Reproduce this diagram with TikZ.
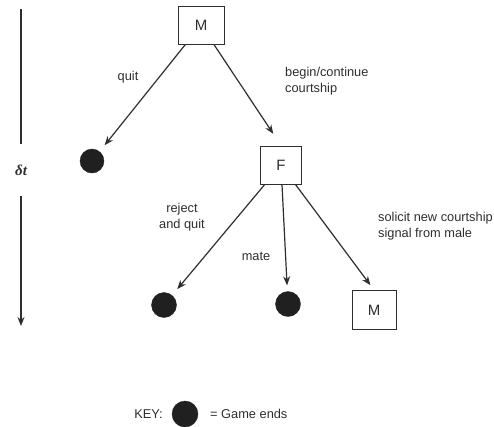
\documentclass[tikz,border=0pt]{standalone}
\usepackage{fontspec}
\setmainfont{Liberation Sans}
\newfontfamily\deltafont{Liberation Serif}
\usetikzlibrary{arrows.meta}
\definecolor{ink}{HTML}{2E2E2E}
\definecolor{dot}{HTML}{202020}
\begin{document}
\begin{tikzpicture}[x=1pt,y=-1pt,
  player/.style={draw=ink,line width=1pt,inner sep=0pt,text=ink,font=\fontsize{15}{18}\selectfont},
  enddot/.style={circle,fill=dot,draw=dot,inner sep=0pt,minimum size=25pt},
  lbl/.style={inner sep=0pt,text=ink,font=\fontsize{12.8}{16}\selectfont},
  move/.style={draw=ink,line width=1.2pt,-{Stealth[length=9pt,width=7pt]}}
]
\useasboundingbox (0,0) rectangle (494,426);
% players
\node[player,minimum width=46pt,minimum height=38pt] (M1) at (201,25) {M};
\node[player,minimum width=41pt,minimum height=38pt] (F) at (281,165) {F};
\node[player,minimum width=44pt,minimum height=39pt] (M2) at (374,310) {M};
% end states
\node[enddot,minimum size=24pt] (c1) at (92,161) {};
\node[enddot] (c2) at (164,305) {};
\node[enddot] (c3) at (288,304) {};
% moves
\draw[move,shorten >=8pt] (M1) -- (c1);
\draw[move,shorten >=14pt] (M1) -- (F.north);
\draw[move,shorten >=8pt] (F) -- (c2);
\draw[move,shorten >=6pt] (F) -- (c3);
\draw[move,shorten >=6pt] (F) -- (M2.north);
% labels
\node[lbl] (lquit) at (128,77) {quit};
\node[lbl,anchor=west,align=left] (lbegin) at (285,81) {begin/continue\\courtship};
\node[lbl,align=center] (lreject) at (182,217) {reject\\and quit};
\node[lbl] (lmate) at (256,256) {mate};
\node[lbl,anchor=west,align=left] (lsolicit) at (378,226) {solicit new courtship\\signal from male};
% time axis
\coordinate (t0) at (21,9);
\node[inner sep=0pt,minimum height=52pt,text=ink,font=\deltafont\itshape\bfseries\fontsize{15}{18}\selectfont] (dt) at (21,170) {δt};
\coordinate (t1) at (21,326);
\draw[draw=ink,line width=1.2pt] (t0) -- (dt.north);
\draw[move] (dt.south) -- (t1);
% key
\node[enddot,minimum size=26pt] (kdot) at (185,414) {};
\node[lbl,anchor=east] (kkey) at (163,414) {KEY:};
\node[lbl,anchor=west] (kends) at (210,414) {= Game ends};
\end{tikzpicture}
\end{document}
